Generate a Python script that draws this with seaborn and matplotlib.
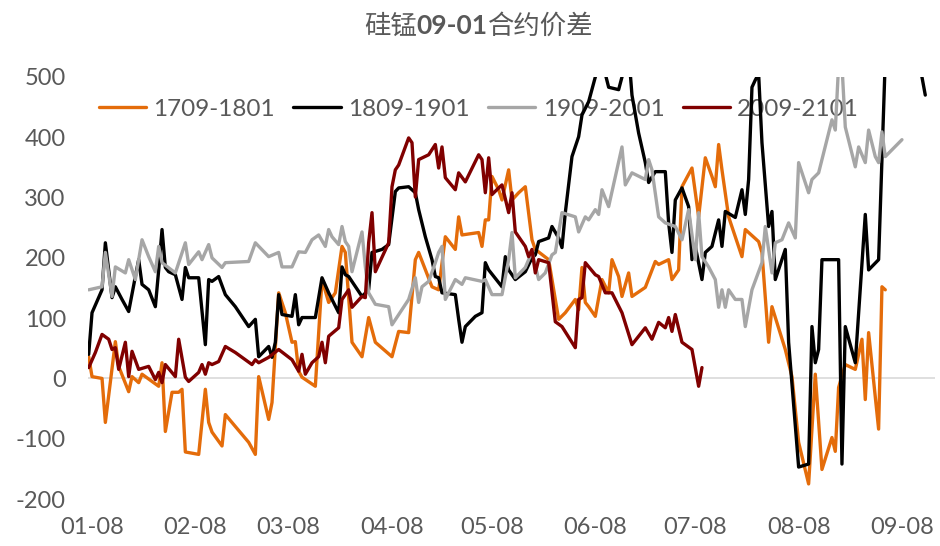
import pandas as pd
import matplotlib
matplotlib.use("Agg")
import matplotlib.pyplot as plt
from matplotlib.lines import Line2D
import seaborn as sns

YEAR = "2021"
series_names = ["1709-1801", "1809-1901", "1909-2001", "2009-2101"]
series_colors = ["#E46C0A", "#000000", "#A6A6A6", "#800000"]
tick_dates = ["01-08", "02-08", "03-08", "04-08", "05-08", "06-08", "07-08", "08-08", "09-08"]
y_ticks = [-200, -100, 0, 100, 200, 300, 400, 500]
title_parts = ["硅锰", "09-01", "合约价差"]

s1709_dates = [
    "01-07", "01-08", "01-11", "01-12", "01-15", "01-16", "01-19", "01-20", "01-22", "01-23",
    "01-26", "01-28", "01-29", "01-30", "02-01", "02-03", "02-04", "02-05", "02-09", "02-11",
    "02-12", "02-13", "02-16", "02-17", "02-24", "02-26", "02-27", "03-02", "03-03", "03-05",
    "03-07", "03-09", "03-10", "03-11", "03-12", "03-16", "03-18", "03-20", "03-22", "03-24",
    "03-25", "03-27", "03-30", "04-01", "04-03", "04-08", "04-10", "04-13", "04-15", "04-16",
    "04-20", "04-22", "04-24", "04-27", "04-28", "04-29", "05-04", "05-05", "05-06", "05-07",
    "05-08", "05-10", "05-11", "05-13", "05-14", "05-16", "05-18", "05-20", "05-21", "05-25",
    "05-28", "05-30", "06-02", "06-03", "06-04", "06-05", "06-06", "06-08", "06-10", "06-12",
    "06-13", "06-15", "06-16", "06-18", "06-19", "06-23", "06-26", "06-27", "06-30", "07-01",
    "07-03", "07-04", "07-07", "07-09", "07-11", "07-13", "07-14", "07-15", "07-16", "07-18",
    "07-22", "07-23", "07-27", "07-28", "07-30", "07-31", "08-04", "08-06", "08-08", "08-11",
    "08-13", "08-15", "08-18", "08-19", "08-20", "08-22", "08-25", "08-27", "08-28", "08-29",
    "09-01", "09-02", "09-03",
]
s1709_vals = [
    36, 3, 0, -73, 61, 20, -22, 3, -7, 7,
    -5, -13, 26, -88, -23, -23, -18, -122, -126, -18,
    -73, -89, -112, -60, -106, -126, 3, -68, -40, 142,
    109, 60, 61, 12, 2, -13, 164, 126, 142, 219,
    209, 60, 36, 101, 60, 36, 78, 76, 197, 209,
    152, 147, 235, 214, 268, 238, 242, 219, 263, 263,
    335, 313, 296, 346, 296, 308, 318, 230, 214, 197,
    98, 109, 131, 114, 184, 126, 119, 103, 164, 142,
    197, 169, 136, 175, 136, 151, 194, 189, 197, 164,
    180, 318, 349, 268, 366, 335, 318, 388, 346, 268,
    202, 247, 227, 209, 60, 119, 48, 3, -106, -175,
    7, -151, -98, -121, -15, 23, 15, 65, -35, 76,
    -84, 152, 147,
]

s1809_dates = [
    "01-07", "01-08", "01-11", "01-12", "01-14", "01-15", "01-17", "01-19", "01-21", "01-22",
    "01-23", "01-25", "01-27", "01-28", "01-29", "01-30", "01-31", "02-02", "02-04", "02-05",
    "02-06", "02-09", "02-11", "02-12", "02-13", "02-15", "02-17", "02-20", "02-24", "02-26",
    "02-27", "03-02", "03-03", "03-04", "03-05", "03-06", "03-09", "03-10", "03-11", "03-12",
    "03-16", "03-18", "03-20", "03-23", "03-24", "03-25", "03-26", "03-30", "04-01", "04-02",
    "04-05", "04-07", "04-09", "04-10", "04-13", "04-15", "04-16", "04-18", "04-20", "04-21",
    "04-22", "04-23", "04-27", "04-28", "04-29", "04-30", "05-03", "05-05", "05-06", "05-07",
    "05-11", "05-12", "05-13", "05-15", "05-18", "05-20", "05-21", "05-22", "05-25", "05-26",
    "05-28", "05-29", "05-30", "06-01", "06-03", "06-04", "06-06", "06-08", "06-10", "06-11",
    "06-12", "06-15", "06-16", "06-18", "06-19", "06-21", "06-23", "06-24", "06-26", "06-29",
    "06-30", "07-01", "07-02", "07-04", "07-06", "07-07", "07-08", "07-10", "07-11", "07-13",
    "07-15", "07-16", "07-17", "07-20", "07-22", "07-23", "07-24", "07-25", "07-26", "07-27",
    "07-28", "07-30", "07-31", "08-01", "08-04", "08-05", "08-08", "08-11", "08-12", "08-13",
    "08-14", "08-15", "08-20", "08-21", "08-22", "08-25", "08-28", "08-29", "09-01", "09-03",
    "09-06", "09-12", "09-15",
]
s1809_vals = [
    40, 109, 147, 225, 134, 152, 131, 111, 169, 197,
    156, 147, 119, 180, 247, 184, 177, 172, 131, 184,
    167, 167, 56, 164, 161, 169, 139, 119, 86, 98,
    36, 53, 35, 60, 139, 106, 103, 139, 89, 101,
    101, 167, 142, 109, 185, 172, 169, 136, 147, 209,
    214, 222, 310, 316, 318, 308, 280, 235, 197, 169,
    167, 142, 139, 98, 60, 86, 103, 109, 192, 180,
    152, 202, 180, 164, 177, 200, 205, 227, 233, 252,
    233, 217, 275, 368, 401, 437, 459, 500, 530, 505,
    483, 479, 500, 540, 470, 407, 358, 325, 343, 343,
    258, 209, 296, 316, 285, 197, 219, 164, 209, 219,
    263, 219, 277, 267, 313, 272, 330, 483, 495, 505,
    391, 252, 277, 164, 214, 60, -147, -142, 86, 26,
    48, 197, 197, -142, 86, 26, 272, 180, 197, 530,
    560, 560, 470,
]

s1909_dates = [
    "01-07", "01-11", "01-12", "01-14", "01-15", "01-18", "01-19", "01-21", "01-23", "01-25",
    "01-27", "01-28", "01-29", "02-02", "02-05", "02-06", "02-09", "02-10", "02-12", "02-13",
    "02-16", "02-17", "02-24", "02-26", "03-02", "03-05", "03-06", "03-09", "03-11", "03-13",
    "03-15", "03-17", "03-19", "03-20", "03-21", "03-23", "03-24", "03-25", "03-26", "03-27",
    "03-30", "03-31", "04-01", "04-03", "04-07", "04-08", "04-13", "04-15", "04-16", "04-17",
    "04-19", "04-21", "04-22", "04-23", "04-24", "04-25", "04-27", "04-29", "04-30", "05-05",
    "05-06", "05-08", "05-11", "05-13", "05-14", "05-15", "05-18", "05-19", "05-20", "05-22",
    "05-24", "05-26", "05-27", "05-29", "06-02", "06-03", "06-05", "06-06", "06-08", "06-09",
    "06-10", "06-12", "06-16", "06-17", "06-19", "06-23", "06-24", "06-25", "06-27", "06-29",
    "07-02", "07-04", "07-06", "07-08", "07-09", "07-10", "07-12", "07-14", "07-15", "07-16",
    "07-17", "07-18", "07-20", "07-22", "07-23", "07-25", "07-28", "07-29", "07-31", "08-01",
    "08-03", "08-05", "08-07", "08-08", "08-11", "08-12", "08-14", "08-18", "08-19", "08-20",
    "08-21", "08-22", "08-25", "08-26", "08-28", "08-29", "08-31", "09-01", "09-02", "09-03",
    "09-08",
]
s1909_vals = [
    147, 152, 209, 136, 185, 175, 197, 164, 230, 202,
    177, 219, 192, 175, 225, 189, 210, 197, 222, 200,
    184, 192, 194, 225, 202, 209, 185, 185, 210, 209,
    230, 238, 219, 247, 235, 222, 252, 227, 219, 177,
    243, 185, 142, 123, 119, 89, 131, 167, 126, 152,
    161, 192, 209, 219, 131, 142, 164, 156, 167, 161,
    164, 139, 139, 197, 242, 167, 184, 197, 210, 164,
    175, 205, 209, 275, 268, 243, 268, 263, 280, 272,
    313, 285, 384, 321, 341, 330, 363, 346, 268, 258,
    252, 230, 280, 197, 275, 202, 185, 164, 118, 147,
    118, 147, 131, 131, 86, 147, 192, 252, 175, 225,
    230, 258, 233, 358, 308, 330, 341, 429, 412, 520,
    520, 417, 351, 384, 358, 412, 368, 358, 409, 368,
    396,
]

s2009_dates = [
    "01-07", "01-09", "01-11", "01-13", "01-14", "01-15", "01-16", "01-18", "01-19", "01-20",
    "01-22", "01-25", "01-27", "01-28", "01-29", "01-30", "02-02", "02-03", "02-05", "02-06",
    "02-09", "02-10", "02-11", "02-12", "02-13", "02-15", "02-17", "02-20", "02-25", "02-26",
    "02-27", "03-02", "03-05", "03-09", "03-11", "03-12", "03-13", "03-15", "03-17", "03-18",
    "03-19", "03-20", "03-23", "03-24", "03-26", "03-27", "03-30", "03-31", "04-01", "04-02",
    "04-03", "04-07", "04-08", "04-09", "04-10", "04-13", "04-14", "04-15", "04-16", "04-19",
    "04-21", "04-22", "04-23", "04-24", "04-27", "04-28", "04-30", "05-04", "05-05", "05-06",
    "05-07", "05-08", "05-10", "05-11", "05-13", "05-14", "05-15", "05-18", "05-19", "05-20",
    "05-21", "05-22", "05-25", "05-27", "05-29", "06-02", "06-03", "06-04", "06-05", "06-08",
    "06-09", "06-11", "06-13", "06-16", "06-19", "06-23", "06-25", "06-27", "06-29", "06-30",
    "07-01", "07-02", "07-04", "07-07", "07-09", "07-10",
]
s2009_vals = [
    18, 43, 73, 65, 48, 51, 15, 60, 3, 45,
    15, 20, -2, 10, -7, 23, 3, 65, 2, -5,
    10, 23, 7, 26, 23, 28, 53, 43, 23, 31,
    26, 35, 48, 31, 12, 40, 7, 26, 36, 60,
    26, 70, 84, 131, 147, 118, 136, 134, 225, 275,
    177, 225, 318, 346, 354, 399, 391, 301, 363, 371,
    388, 349, 384, 333, 313, 341, 326, 371, 363, 308,
    366, 305, 316, 321, 275, 308, 243, 219, 202, 214,
    175, 197, 192, 94, 86, 51, 131, 134, 192, 172,
    169, 142, 142, 109, 56, 84, 65, 93, 84, 101,
    78, 106, 60, 48, -13, 18,
]

all_dates = [s1709_dates, s1809_dates, s1909_dates, s2009_dates]
all_vals = [s1709_vals, s1809_vals, s1909_vals, s2009_vals]

frames = []
for name, d, v in zip(series_names, all_dates, all_vals):
    n = min(len(d), len(v))
    frames.append(pd.DataFrame({
        "date": pd.to_datetime([f"{YEAR}-{x}" for x in d[:n]]),
        "value": v[:n],
        "series": name,
    }))
df = pd.concat(frames, ignore_index=True)

sns.set_theme(style="white")
plt.rcParams["font.family"] = ["Lato", "Noto Sans CJK SC", "DejaVu Sans"]
plt.rcParams["axes.unicode_minus"] = False

W, H = 940, 546
fig = plt.figure(figsize=(W / 100, H / 100), dpi=100)
ax = fig.add_axes([88 / W, 1 - 499 / H, (935 - 88) / W, (499 - 77) / H])

ax.axhline(0, color="#D9D9D9", lw=1.2, zorder=1.5)
sns.lineplot(data=df, x="date", y="value", hue="series", hue_order=series_names,
             palette=series_colors, estimator=None, sort=True, linewidth=2.4,
             ax=ax, legend=False)

ax.set_ylim(-200, 500)
ax.set_xlim(pd.Timestamp(f"{YEAR}-01-06 19:00"), pd.Timestamp(f"{YEAR}-09-17 22:00"))
ax.set_yticks(y_ticks)
ax.set_yticklabels([str(t) for t in y_ticks])
ax.set_xticks(pd.to_datetime([f"{YEAR}-{t}" for t in tick_dates]))
ax.set_xticklabels(tick_dates)
ax.tick_params(axis="both", length=0, labelsize=17, labelcolor="#595959")
ax.tick_params(axis="y", pad=16)
ax.tick_params(axis="x", pad=13)
for s in ax.spines.values():
    s.set_visible(False)
ax.set_xlabel("")
ax.set_ylabel("")
ax.grid(False)

handles = [Line2D([], [], color=c, lw=2.4) for c in series_colors]
leg = ax.legend(handles, series_names, loc="center",
                bbox_to_anchor=(479 / W, 1 - 109 / H), bbox_transform=fig.transFigure,
                ncol=4, frameon=False, fontsize=17.5, handlelength=1.95,
                handletextpad=0.3, columnspacing=0.75, labelcolor="#595959")
leg.set_zorder(1)

fig.canvas.draw()
r = fig.canvas.get_renderer()
weights = ["normal", "bold", "normal"]
families = [["Noto Sans CJK SC", "DejaVu Sans"], ["Lato", "DejaVu Sans"], ["Noto Sans CJK SC", "DejaVu Sans"]]
texts = []
for s, w, fam in zip(title_parts, weights, families):
    texts.append(fig.text(0, 1 - 26 / H, s, fontsize=19, fontweight=w, color="#595959",
                          family=fam, va="center", ha="left"))
widths = [t.get_window_extent(renderer=r).width for t in texts]
x = 478.5 - sum(widths) / 2
for t, w in zip(texts, widths):
    t.set_x(x / W)
    x += w

fig.savefig("out.png", dpi=100)
